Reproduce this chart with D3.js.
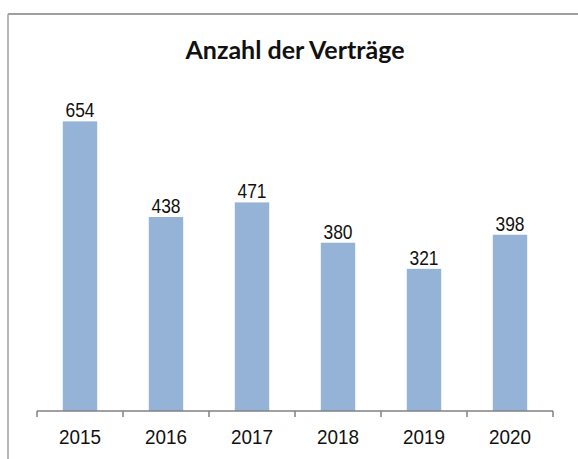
<!DOCTYPE html>
<html>
<head>
<meta charset="utf-8">
<script src="https://cdn.jsdelivr.net/npm/d3@7"></script>
<style>
  html, body { margin: 0; padding: 0; background: #fff; }
  svg { display: block; }
</style>
</head>
<body>
<script>
const years = ["2015", "2016", "2017", "2018", "2019", "2020"];
const values = [654, 438, 471, 380, 321, 398];
const title = "Anzahl der Verträge";

const W = 578, H = 459;
const svg = d3.select("body").append("svg").attr("width", W).attr("height", H);

// frame
svg.append("line").attr("x1", 8).attr("x2", W).attr("y1", 14).attr("y2", 14)
  .attr("stroke", "#a0a0a0").attr("stroke-width", 2);
svg.append("line").attr("x1", 8).attr("x2", 8).attr("y1", 14).attr("y2", H)
  .attr("stroke", "#a0a0a0").attr("stroke-width", 1.5);

svg.append("text").attr("x", 295).attr("y", 59)
  .attr("text-anchor", "middle")
  .attr("font-family", "Lato, 'Open Sans', sans-serif")
  .attr("font-weight", "bold").attr("font-size", 25)
  .attr("fill", "#111").text(title);

const x = d3.scaleBand().domain(years).range([37, 553]).paddingInner(0.6).paddingOuter(0.3);
const y = d3.scaleLinear().domain([0, 700]).range([411, 101]);

svg.selectAll("rect.bar").data(values).join("rect")
  .attr("class", "bar")
  .attr("x", (d, i) => x(years[i]))
  .attr("width", x.bandwidth())
  .attr("y", d => y(d))
  .attr("height", d => y(0) - y(d))
  .attr("fill", "#95b3d7");

svg.selectAll("text.val").data(values).join("text")
  .attr("class", "val")
  .attr("transform", (d, i) => `translate(${x(years[i]) + x.bandwidth() / 2},${y(d) - 4}) scale(0.87,1)`)
  .attr("text-anchor", "middle")
  .attr("font-family", "'Liberation Sans', Arial, sans-serif")
  .attr("font-size", 20)
  .attr("fill", "#111")
  .text(d => d);

const xAxisScale = d3.scalePoint().domain(d3.range(7)).range([37, 553]);
const axisG = svg.append("g").attr("transform", "translate(0,411)");
axisG.append("line").attr("x1", 37).attr("x2", 553).attr("stroke", "#808080").attr("stroke-width", 1.5);
axisG.selectAll("line.tick").data(d3.range(7)).join("line")
  .attr("class", "tick")
  .attr("x1", d => xAxisScale(d)).attr("x2", d => xAxisScale(d))
  .attr("y1", 0).attr("y2", 6)
  .attr("stroke", "#808080").attr("stroke-width", 1.5);
axisG.selectAll("text").data(years).join("text")
  .attr("transform", d => `translate(${x(d) + x.bandwidth() / 2},33) scale(0.9,1)`)
  .attr("text-anchor", "middle")
  .attr("font-family", "'Liberation Sans', Arial, sans-serif")
  .attr("font-size", 21)
  .attr("fill", "#111")
  .text(d => d);
</script>
</body>
</html>
